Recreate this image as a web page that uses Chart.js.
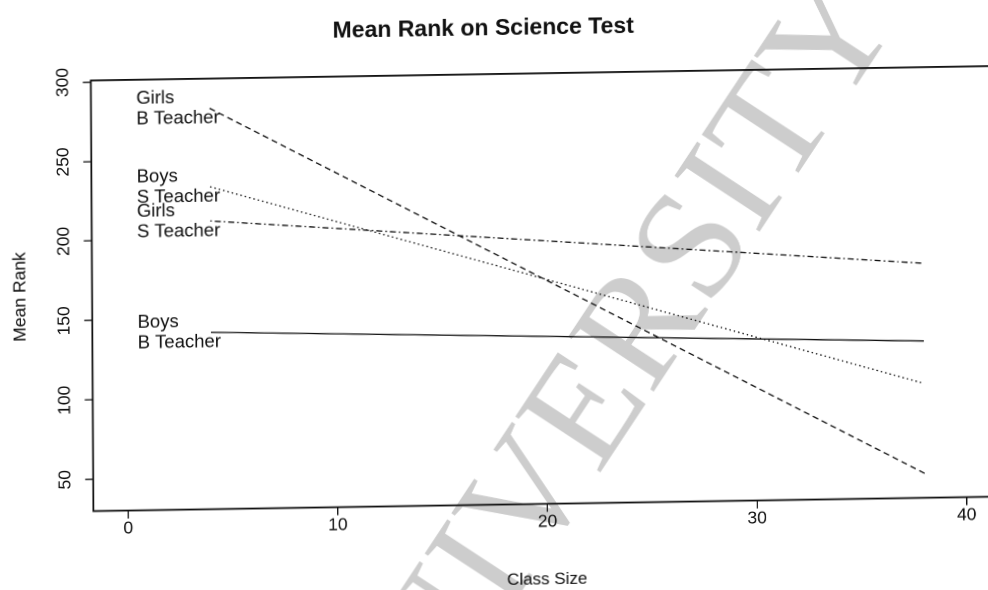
<!DOCTYPE html>
<html>
<head>
<meta charset="utf-8">
<script src="https://cdn.jsdelivr.net/npm/chart.js@4.4.1/dist/chart.umd.min.js"></script>
<style>
  html, body { margin: 0; padding: 0; background: #fff; overflow: hidden; width: 988px; height: 590px; }
  /* the printed page sits slightly skewed on the scanner bed */
  #wrap { position: absolute; left: 0; top: 0; width: 1010px; height: 600px;
          transform-origin: 0 0; transform: matrix(1, -0.016, 0.006, 1, 0, 0); }
</style>
</head>
<body>
<div id="wrap"><canvas id="c" width="1010" height="600"></canvas></div>
<script>
// Fitted mean rank at the smallest and largest class sizes
const classSize     = [4, 38];
const girlsBTeacher = [282.3, 45.4];
const boysSTeacher  = [232.9, 102.0];
const girlsSTeacher = [211.4, 177.6];
const boysBTeacher  = [141.3, 128.7];

const xTicks = [0, 10, 20, 30, 40];
const yTicks = [50, 100, 150, 200, 250, 300];

const chartTitle = 'Mean Rank on Science Test';
const xTitle = 'Class Size';
const yTitle = 'Mean Rank';

const INK = '#111';
const FONT = '"Liberation Sans", Arial, Helvetica, sans-serif';

const series = [
  { group: 'Girls', teacher: 'B Teacher', values: girlsBTeacher, dash: [6, 4] },
  { group: 'Boys',  teacher: 'S Teacher', values: boysSTeacher,  dash: [1.5, 3] },
  { group: 'Girls', teacher: 'S Teacher', values: girlsSTeacher, dash: [1.5, 3, 6, 3] },
  { group: 'Boys',  teacher: 'B Teacher', values: boysBTeacher,  dash: [] }
];

const pagePlugin = {
  id: 'page',
  beforeDraw(chart) {
    const ctx = chart.ctx;
    ctx.save();
    ctx.fillStyle = '#fff';
    ctx.fillRect(0, 0, chart.width, chart.height);
    // faint diagonal watermark printed across the page
    ctx.translate(604.6, 398);
    ctx.rotate(-56 * Math.PI / 180);
    ctx.font = '156px "Liberation Serif", "Times New Roman", serif';
    ctx.fillStyle = '#cdcdcd';
    ctx.textAlign = 'center';
    ctx.textBaseline = 'middle';
    ctx.fillText('UNIVERSITY', 0, 0);
    ctx.restore();
  },
  afterDraw(chart) {
    const ctx = chart.ctx;
    const a = chart.chartArea;
    const xs = chart.scales.x, ys = chart.scales.y;
    ctx.save();

    // plot frame
    ctx.strokeStyle = INK;
    ctx.lineWidth = 1.8;
    ctx.strokeRect(a.left, a.top, a.right - a.left, a.bottom - a.top);

    ctx.fillStyle = INK;

    // main title
    ctx.font = 'bold 23px ' + FONT;
    ctx.textAlign = 'center';
    ctx.textBaseline = 'alphabetic';
    ctx.fillText(chartTitle, 483, 43);

    // x axis title
    ctx.font = '17px ' + FONT;
    ctx.fillText(xTitle, (a.left + a.right) / 2, 593);

    // x tick labels
    ctx.font = '17.5px ' + FONT;
    xs.ticks.forEach(t => {
      ctx.fillText(String(t.value), xs.getPixelForValue(t.value), 535.5);
    });

    // y tick labels, written along the axis
    ys.ticks.forEach(t => {
      ctx.save();
      ctx.translate(67.4, ys.getPixelForValue(t.value));
      ctx.rotate(-Math.PI / 2);
      ctx.textAlign = 'center';
      ctx.fillText(String(t.value), 0, 0);
      ctx.restore();
    });

    // y axis title
    ctx.save();
    ctx.translate(23.7, (a.top + a.bottom) / 2);
    ctx.rotate(-Math.PI / 2);
    ctx.font = '17.5px ' + FONT;
    ctx.textAlign = 'center';
    ctx.fillText(yTitle, 0, 0);
    ctx.restore();

    // series labels at the start of each line
    ctx.font = '18.5px ' + FONT;
    ctx.textAlign = 'left';
    const lx = xs.getPixelForValue(0.5);
    series.forEach(s => {
      const py = ys.getPixelForValue(s.values[0]);
      ctx.fillText(s.group, lx, py - 5.5);
      ctx.fillText(s.teacher, lx, py + 15);
    });

    ctx.restore();
  }
};

new Chart(document.getElementById('c'), {
  type: 'line',
  data: {
    datasets: series.map(s => ({
      label: s.group + ' ' + s.teacher,
      data: classSize.map((x, i) => ({ x: x, y: s.values[i] })),
      borderColor: INK,
      borderWidth: 1.3,
      borderDash: s.dash,
      pointRadius: 0,
      fill: false,
      tension: 0
    }))
  },
  options: {
    responsive: false,
    maintainAspectRatio: false,
    animation: false,
    devicePixelRatio: 2,
    layout: { padding: { left: 90.3, right: 12.9, top: 81.9, bottom: 87.5 } },
    plugins: { legend: { display: false }, tooltip: { enabled: false }, title: { display: false } },
    scales: {
      x: {
        type: 'linear',
        min: -1.66, max: 41.6,
        afterBuildTicks: s => { s.ticks = xTicks.map(v => ({ value: v })); },
        afterFit: s => { s.height = 0; },
        border: { display: false },
        grid: { drawOnChartArea: false, drawTicks: true, tickLength: 8, color: INK, lineWidth: 1.3 },
        ticks: { display: false }
      },
      y: {
        type: 'linear',
        min: 30, max: 301,
        afterBuildTicks: s => { s.ticks = yTicks.map(v => ({ value: v })); },
        afterFit: s => { s.width = 0; },
        border: { display: false },
        grid: { drawOnChartArea: false, drawTicks: true, tickLength: 8, color: INK, lineWidth: 1.3 },
        ticks: { display: false }
      }
    }
  },
  plugins: [pagePlugin]
});
</script>
</body>
</html>
